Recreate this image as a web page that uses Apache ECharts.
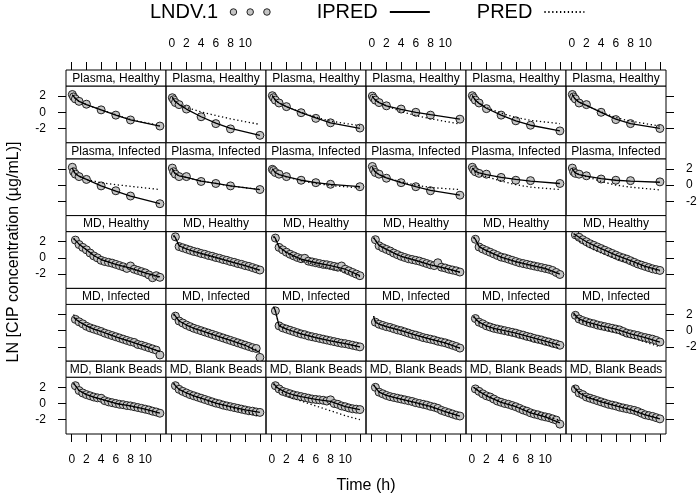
<!DOCTYPE html>
<html>
<head>
<meta charset="utf-8">
<script src="https://cdn.jsdelivr.net/npm/echarts@6/dist/echarts.min.js"></script>
<style>
  html, body { margin: 0; padding: 0; background: #fff; }
  #chart { width: 700px; height: 498px; }
</style>
</head>
<body>
<div id="chart"></div>
<script>
// panel rows (strip labels), 6 subjects per row
const rowLabels = ["Plasma, Healthy", "Plasma, Infected", "MD, Healthy", "MD, Infected", "MD, Blank Beads"];
const xTicks = [0, 2, 4, 6, 8, 10, 12];
const xTickLabels = [0, 2, 4, 6, 8, 10];
const yTicks = [-2, 0, 2];

// sampling times (h)
const plasmaTime = [0.083, 0.25, 0.5, 1, 2, 4, 6, 8, 12];
const mdTime = [0.5, 1, 1.5, 2, 2.5, 3, 3.5, 4, 4.5, 5, 5.5, 6, 6.5, 7, 7.5, 8, 8.5, 9, 9.5, 10, 10.5, 11, 11.5, 12];
const mdLineTime = [0.25, 0.5, 1, 2, 3, 4, 6, 8, 10, 12];

// Plasma, Healthy
const obsPlasmaHealthy = [
  [2.2, 1.9, 1.65, 1.35, 1.0, 0.3, -0.35, -0.95, -1.7],
  [1.8, 1.55, 1.2, 0.95, 0.4, -0.55, -1.4, -2.05, -2.85],
  [2.05, 1.8, 1.5, 1.15, 0.7, -0.05, -0.75, -1.3, -1.95],
  [2.0, 1.75, 1.5, 1.2, 0.8, 0.4, 0.0, -0.35, -0.85],
  [2.05, 1.8, 1.5, 1.15, 0.45, -0.35, -1.05, -1.6, -2.3],
  [2.2, 1.9, 1.65, 1.15, 0.95, 0.0, -0.9, -1.4, -2.0]
];
const ipredPlasmaHealthy = [
  [2.15, 1.95, 1.7, 1.35, 0.95, 0.3, -0.35, -0.95, -1.7],
  [1.85, 1.6, 1.3, 0.95, 0.4, -0.55, -1.35, -2.0, -2.85],
  [2.05, 1.8, 1.5, 1.15, 0.7, -0.05, -0.7, -1.3, -2.0],
  [2.0, 1.75, 1.5, 1.2, 0.8, 0.35, 0.0, -0.3, -0.85],
  [2.05, 1.8, 1.5, 1.1, 0.5, -0.35, -1.05, -1.6, -2.3],
  [2.2, 1.9, 1.6, 1.25, 0.85, 0.0, -0.85, -1.4, -2.0]
];
const predPlasmaHealthy = [
  [2.15, 1.95, 1.7, 1.35, 0.95, 0.3, -0.3, -0.9, -1.65],
  [1.85, 1.6, 1.3, 1.0, 0.6, 0.05, -0.4, -0.8, -1.5],
  [2.05, 1.8, 1.5, 1.15, 0.7, 0.0, -0.6, -1.1, -1.65],
  [2.0, 1.75, 1.5, 1.2, 0.8, 0.1, -0.4, -0.8, -1.45],
  [2.05, 1.8, 1.5, 1.15, 0.6, -0.1, -0.65, -1.0, -1.4],
  [2.2, 1.9, 1.6, 1.25, 0.85, 0.05, -0.65, -1.1, -1.7]
];

// Plasma, Infected
const obsPlasmaInfected = [
  [2.2, 1.65, 1.35, 1.05, 0.7, -0.1, -0.7, -1.35, -2.3],
  [2.1, 1.65, 1.35, 1.05, 1.05, 0.45, 0.2, -0.1, -0.55],
  [1.95, 1.8, 1.55, 1.35, 1.05, 0.6, 0.3, 0.1, -0.2],
  [2.3, 1.9, 1.55, 1.35, 0.85, 0.3, -0.2, -0.7, -1.25],
  [2.2, 1.9, 1.65, 1.45, 1.35, 0.95, 0.6, 0.55, 0.2],
  [2.1, 1.65, 1.45, 1.35, 1.15, 0.75, 0.6, 0.55, 0.4]
];
const ipredPlasmaInfected = [
  [2.1, 1.75, 1.4, 1.1, 0.7, -0.1, -0.75, -1.35, -2.3],
  [2.0, 1.7, 1.4, 1.15, 0.95, 0.5, 0.2, -0.1, -0.55],
  [2.0, 1.8, 1.55, 1.3, 1.05, 0.6, 0.3, 0.1, -0.2],
  [2.2, 1.9, 1.6, 1.3, 0.9, 0.3, -0.2, -0.65, -1.25],
  [2.1, 1.9, 1.7, 1.5, 1.3, 0.95, 0.7, 0.5, 0.2],
  [2.05, 1.75, 1.5, 1.3, 1.1, 0.8, 0.6, 0.5, 0.35]
];
const predPlasmaInfected = [
  [2.1, 1.75, 1.4, 1.1, 0.7, 0.3, 0.05, -0.15, -0.55],
  [2.0, 1.7, 1.4, 1.15, 0.95, 0.5, 0.2, -0.1, -0.55],
  [2.0, 1.8, 1.55, 1.3, 1.0, 0.55, 0.2, -0.05, -0.35],
  [2.2, 1.9, 1.6, 1.3, 0.9, 0.4, 0.0, -0.3, -0.55],
  [2.1, 1.85, 1.55, 1.3, 1.05, 0.5, 0.05, -0.25, -0.55],
  [2.05, 1.75, 1.5, 1.3, 1.05, 0.45, 0.0, -0.25, -0.6]
];

// MD, Healthy
const obsMdHealthy = [
  [2.2, 1.65, 1.3, 1.0, 0.6, 0.25, 0.0, -0.3, -0.45, -0.55, -0.65, -0.8, -0.95, -1.1, -1.3, -1.0, -1.4, -1.55, -1.7, -1.85, -2.1, -2.45, -2.2, -2.4],
  [2.6, 1.4, 1.25, 1.1, 0.95, 0.8, 0.7, 0.55, 0.45, 0.3, 0.2, 0.05, -0.05, -0.2, -0.3, -0.45, -0.55, -0.7, -0.8, -0.95, -1.05, -1.2, -1.35, -1.5],
  [2.45, 1.3, 1.0, 0.7, 0.45, 0.25, 0.05, -0.1, -0.05, -0.4, -0.5, -0.6, -0.7, -0.8, -0.85, -0.95, -1.05, -1.15, -1.0, -1.4, -1.6, -1.8, -2.0, -2.2],
  [2.25, 1.5, 1.25, 1.05, 0.85, 0.6, 0.4, 0.2, 0.05, -0.1, -0.2, -0.3, -0.4, -0.55, -0.7, -0.85, -0.95, -0.6, -1.15, -1.25, -1.4, -1.5, -1.6, -1.75],
  [2.3, 1.35, 1.1, 0.9, 0.7, 0.5, 0.3, 0.1, 0.0, -0.15, -0.3, -0.45, -0.6, -0.7, -0.8, -0.9, -1.0, -1.1, -1.2, -1.3, -1.4, -1.55, -1.8, -2.05],
  [2.85, 2.55, 2.25, 2.0, 1.75, 1.55, 1.35, 1.15, 0.95, 0.75, 0.55, 0.35, 0.15, 0.0, -0.15, -0.35, -0.55, -0.75, -0.9, -1.05, -1.2, -1.35, -1.45, -1.55]
];
const ipredMdHealthy = [
  [2.4, 2.2, 1.7, 1.0, 0.3, -0.2, -0.8, -1.25, -1.85, -2.35],
  [2.8, 2.5, 1.5, 1.1, 0.8, 0.55, 0.05, -0.45, -0.95, -1.5],
  [2.7, 2.4, 1.35, 0.7, 0.25, -0.15, -0.6, -0.95, -1.4, -2.2],
  [2.5, 2.3, 1.55, 1.05, 0.6, 0.2, -0.3, -0.85, -1.25, -1.75],
  [2.6, 2.3, 1.4, 0.9, 0.5, 0.1, -0.45, -0.9, -1.3, -2.0],
  [3.0, 2.85, 2.55, 2.0, 1.55, 1.15, 0.35, -0.35, -1.05, -1.55]
];
const predMdHealthy = [
  [2.4, 2.2, 1.7, 1.0, 0.3, -0.2, -0.8, -1.3, -1.9, -2.45],
  [2.7, 2.4, 1.5, 1.1, 0.8, 0.5, 0.0, -0.5, -1.0, -1.55],
  [2.6, 2.3, 1.3, 0.6, 0.1, -0.3, -0.85, -1.3, -1.75, -2.3],
  [2.5, 2.3, 1.55, 1.05, 0.6, 0.2, -0.35, -0.9, -1.35, -1.8],
  [2.5, 2.25, 1.4, 0.85, 0.45, 0.05, -0.5, -0.95, -1.4, -2.0],
  [2.7, 2.5, 2.1, 1.5, 1.0, 0.6, -0.1, -0.65, -1.15, -1.65]
];

// MD, Infected
const obsMdInfected = [
  [1.4, 1.1, 0.85, 0.55, 0.35, 0.2, 0.05, -0.1, -0.3, -0.45, -0.6, -0.75, -0.9, -1.05, -1.2, -1.35, -1.45, -1.7, -1.8, -1.95, -2.1, -2.25, -2.4, -3.0],
  [1.8, 1.2, 0.95, 0.7, 0.5, 0.3, 0.15, 0.0, -0.15, -0.3, -0.45, -0.6, -0.75, -0.9, -1.05, -1.2, -1.35, -1.5, -1.65, -1.8, -1.95, -2.1, -2.2, -3.3],
  [2.45, 0.6, 0.35, 0.2, 0.05, -0.1, -0.25, -0.4, -0.5, -0.65, -0.75, -0.85, -0.95, -1.05, -1.15, -1.25, -1.35, -1.45, -1.55, -1.6, -1.7, -1.8, -1.9, -2.0],
  [1.05, 0.8, 0.65, 0.5, 0.4, 0.25, 0.1, 0.0, -0.15, -0.3, -0.45, -0.55, -0.7, -0.85, -0.95, -1.05, -1.15, -1.3, -1.4, -1.5, -1.65, -1.8, -1.95, -2.15],
  [1.5, 1.05, 0.85, 0.6, 0.45, 0.3, 0.2, 0.1, 0.0, -0.1, -0.2, -0.3, -0.45, -0.55, -0.7, -0.8, -0.95, -1.05, -1.15, -1.3, -1.4, -1.55, -1.65, -1.8],
  [1.9, 1.45, 1.25, 1.1, 0.95, 0.85, 0.7, 0.6, 0.5, 0.4, 0.3, 0.2, 0.1, -0.1, -0.3, -0.4, -0.5, -0.6, -0.75, -0.85, -0.95, -1.05, -1.2, -1.4]
];
const ipredMdInfected = [
  [1.7, 1.45, 1.1, 0.6, 0.2, -0.1, -0.75, -1.35, -1.95, -2.6],
  [2.1, 1.8, 1.2, 0.7, 0.3, 0.0, -0.6, -1.2, -1.8, -2.7],
  [3.0, 2.45, 0.6, 0.2, -0.1, -0.4, -0.85, -1.25, -1.6, -2.0],
  [1.8, 1.05, 0.8, 0.5, 0.25, 0.0, -0.55, -1.05, -1.5, -2.15],
  [1.8, 1.5, 1.05, 0.6, 0.3, 0.1, -0.3, -0.8, -1.3, -1.8],
  [2.2, 1.9, 1.45, 1.1, 0.85, 0.6, 0.2, -0.4, -0.85, -1.4]
];
const predMdInfected = [
  [2.0, 1.6, 1.15, 0.6, 0.2, -0.1, -0.75, -1.35, -1.95, -2.55],
  [2.0, 1.75, 1.2, 0.7, 0.3, 0.0, -0.6, -1.2, -1.8, -2.5],
  [2.9, 2.4, 0.7, 0.2, -0.1, -0.4, -0.85, -1.25, -1.6, -2.0],
  [1.8, 1.1, 0.8, 0.5, 0.25, 0.0, -0.55, -1.05, -1.55, -2.15],
  [1.7, 1.4, 1.0, 0.5, 0.15, -0.15, -0.65, -1.15, -1.65, -2.2],
  [2.0, 1.7, 1.3, 0.9, 0.6, 0.3, -0.2, -0.8, -1.4, -2.0]
];

// MD, Blank Beads
const obsMdBlank = [
  [2.2, 1.6, 1.3, 1.1, 0.95, 0.8, 0.7, 0.65, 0.35, 0.2, 0.1, 0.0, -0.1, -0.15, -0.25, -0.3, -0.4, -0.5, -0.6, -0.7, -0.8, -0.95, -1.05, -1.2],
  [2.2, 1.75, 1.5, 1.3, 1.1, 0.95, 0.8, 0.65, 0.5, 0.35, 0.2, 0.05, -0.05, -0.2, -0.3, -0.4, -0.5, -0.6, -0.7, -0.8, -0.9, -0.95, -1.05, -1.1],
  [2.2, 1.8, 1.5, 1.35, 1.2, 1.05, 0.95, 0.85, 0.75, 0.65, 0.55, 0.5, 0.45, 0.4, 0.3, 0.45, 0.0, -0.1, -0.3, -0.4, -0.55, -0.65, -0.7, -0.75],
  [2.0, 1.4, 1.2, 1.0, 0.85, 0.75, 0.65, 0.55, 0.45, 0.35, 0.25, 0.1, 0.0, -0.1, -0.2, -0.35, -0.45, -0.6, -0.85, -1.0, -1.15, -1.3, -1.45, -1.55],
  [1.8, 1.5, 1.2, 0.95, 0.8, 0.55, 0.3, 0.15, 0.0, -0.1, -0.25, -0.4, -0.6, -0.8, -0.95, -1.15, -1.3, -1.4, -1.55, -1.65, -1.75, -1.9, -2.05, -2.55],
  [1.8, 1.3, 1.1, 0.8, 0.65, 0.5, 0.35, 0.2, 0.05, -0.1, -0.2, -0.3, -0.45, -0.55, -0.65, -0.75, -0.85, -1.0, -1.2, -1.4, -1.5, -1.6, -1.75, -1.9]
];
const ipredMdBlank = [
  [2.5, 2.2, 1.6, 1.1, 0.8, 0.55, 0.0, -0.3, -0.7, -1.2],
  [2.5, 2.2, 1.75, 1.3, 0.95, 0.65, 0.05, -0.4, -0.8, -1.1],
  [2.5, 2.2, 1.8, 1.35, 1.05, 0.85, 0.5, 0.25, -0.4, -0.75],
  [2.3, 2.0, 1.4, 1.0, 0.75, 0.55, 0.1, -0.35, -1.0, -1.55],
  [2.0, 1.8, 1.5, 0.95, 0.55, 0.15, -0.4, -1.15, -1.65, -2.4],
  [2.1, 1.8, 1.3, 0.8, 0.5, 0.2, -0.3, -0.75, -1.4, -1.9]
];
const predMdBlank = [
  [2.5, 2.2, 1.6, 1.1, 0.8, 0.5, 0.0, -0.35, -0.75, -1.25],
  [2.5, 2.2, 1.75, 1.3, 0.9, 0.6, 0.0, -0.5, -1.0, -1.6],
  [2.4, 2.1, 1.6, 1.0, 0.6, 0.3, -0.3, -0.9, -1.5, -2.0],
  [2.3, 2.0, 1.4, 1.0, 0.75, 0.5, 0.05, -0.45, -1.0, -1.6],
  [2.0, 1.8, 1.5, 1.0, 0.6, 0.2, -0.35, -1.0, -1.5, -2.1],
  [2.2, 1.9, 1.45, 0.95, 0.6, 0.3, -0.2, -0.7, -1.3, -1.85]
];

const rows = [
  { time: plasmaTime, lineTime: plasmaTime, obs: obsPlasmaHealthy, ipred: ipredPlasmaHealthy, pred: predPlasmaHealthy },
  { time: plasmaTime, lineTime: plasmaTime, obs: obsPlasmaInfected, ipred: ipredPlasmaInfected, pred: predPlasmaInfected },
  { time: mdTime, lineTime: mdLineTime, obs: obsMdHealthy, ipred: ipredMdHealthy, pred: predMdHealthy },
  { time: mdTime, lineTime: mdLineTime, obs: obsMdInfected, ipred: ipredMdInfected, pred: predMdInfected },
  { time: mdTime, lineTime: mdLineTime, obs: obsMdBlank, ipred: ipredMdBlank, pred: predMdBlank }
];

// layout of the lattice
const FONT = "'Liberation Sans', Arial, sans-serif";
const LEFT = 66, TOP = 70, COLW = 100, ROWH = 72.8, STRIP = 16;
const NCOL = 6;
const LABEL_GAP = 20;

const pairs = (xs, ys) => ys.map((y, i) => [xs[i], y]);

const grid = [], xAxis = [], yAxis = [], series = [], graphics = [];

rows.forEach((row, r) => {
  for (let c = 0; c < NCOL; c++) {
    const i = r * NCOL + c;
    const px = LEFT + c * COLW;
    const py = TOP + r * ROWH;

    grid.push({
      left: px, top: py + STRIP, width: COLW, height: ROWH - STRIP,
      show: true, borderColor: "#000", borderWidth: 1, backgroundColor: "transparent"
    });

    const xLab = (r === 0 && c % 2 === 1) || (r === 4 && c % 2 === 0);
    xAxis.push({
      gridIndex: i, type: "value", min: -0.78, max: 12.83,
      show: r === 0 || r === 4,
      position: r === 0 ? "top" : "bottom",
      offset: r === 0 ? STRIP : 0,
      axisLine: { show: false, onZero: false },
      splitLine: { show: false },
      axisTick: { show: true, length: 8, customValues: xTicks, lineStyle: { color: "#000", width: 1 } },
      axisLabel: { show: xLab, customValues: xTickLabels, margin: LABEL_GAP, color: "#000", fontSize: 12, fontFamily: FONT }
    });

    const yLab = (c === 0 && r % 2 === 0) || (c === 5 && r % 2 === 1);
    yAxis.push({
      gridIndex: i, type: "value", min: -3.77, max: 3.25,
      show: c === 0 || c === 5,
      position: c === 5 ? "right" : "left",
      axisLine: { show: false, onZero: false },
      splitLine: { show: false },
      axisTick: { show: true, length: 8, customValues: yTicks, lineStyle: { color: "#000", width: 1 } },
      axisLabel: { show: yLab, customValues: yTicks, margin: LABEL_GAP, color: "#000", fontSize: 12, fontFamily: FONT }
    });

    series.push({
      name: "LNDV.1", type: "scatter", xAxisIndex: i, yAxisIndex: i,
      data: pairs(row.time, row.obs[c]),
      symbol: "circle", symbolSize: 8, z: 2,
      itemStyle: { color: "#c4c4c4", borderColor: "#222", borderWidth: 1, opacity: 1 }
    });
    series.push({
      name: "IPRED", type: "line", xAxisIndex: i, yAxisIndex: i,
      data: pairs(row.lineTime, row.ipred[c]),
      symbol: "none", z: 3,
      itemStyle: { color: "#000" },
      lineStyle: { color: "#000", width: 1.3 }
    });
    series.push({
      name: "PRED", type: "line", xAxisIndex: i, yAxisIndex: i,
      data: pairs(row.lineTime, row.pred[c]),
      symbol: "none", z: 3,
      itemStyle: { color: "#000" },
      lineStyle: { color: "#000", width: 1.3, type: [1.3, 2.6] }
    });

    // strip
    graphics.push({
      type: "rect", z: 10,
      shape: { x: px, y: py, width: COLW, height: STRIP },
      style: { fill: "#fff", stroke: "#000", lineWidth: 1 }
    });
    graphics.push({
      type: "text", z: 11, x: px + COLW / 2, y: py + STRIP / 2 + 0.5,
      style: { text: rowLabels[r], fontSize: 12, fontFamily: FONT, fill: "#000", align: "center", verticalAlign: "middle" }
    });
  }
});

graphics.push({
  type: "text", x: LEFT + NCOL * COLW / 2, y: 486,
  style: { text: "Time (h)", fontSize: 16, fontFamily: FONT, fill: "#000", align: "center", verticalAlign: "middle" }
});
graphics.push({
  type: "text", x: 14, y: TOP + 5 * ROWH / 2, rotation: Math.PI / 2,
  style: { text: "LN [CIP concentration (µg/mL)]", fontSize: 16, fontFamily: FONT, fill: "#000", align: "center", verticalAlign: "middle" }
});

const noSymbol = { color: "rgba(0,0,0,0)", borderColor: "rgba(0,0,0,0)", borderWidth: 0, opacity: 0 };

const chart = echarts.init(document.getElementById("chart"));
chart.setOption({
  animation: false,
  backgroundColor: "#fff",
  legend: {
    top: 2, left: 150, padding: 0, itemGap: 46, align: "right",
    itemWidth: 40, itemHeight: 8,
    textStyle: { fontSize: 20, color: "#000", fontFamily: FONT, padding: [0, 7, 0, 0] },
    data: [
      {
        name: "LNDV.1",
        icon: "path://M0,3.5a3.5,3.5 0 1,0 7,0a3.5,3.5 0 1,0 -7,0M18,3.5a3.5,3.5 0 1,0 7,0a3.5,3.5 0 1,0 -7,0M36,3.5a3.5,3.5 0 1,0 7,0a3.5,3.5 0 1,0 -7,0",
        itemStyle: { color: "#c4c4c4", borderColor: "#222", borderWidth: 1 }
      },
      { name: "IPRED", itemStyle: noSymbol },
      { name: "PRED", itemStyle: noSymbol }
    ]
  },
  grid, xAxis, yAxis, series,
  graphic: graphics
});
</script>
</body>
</html>
